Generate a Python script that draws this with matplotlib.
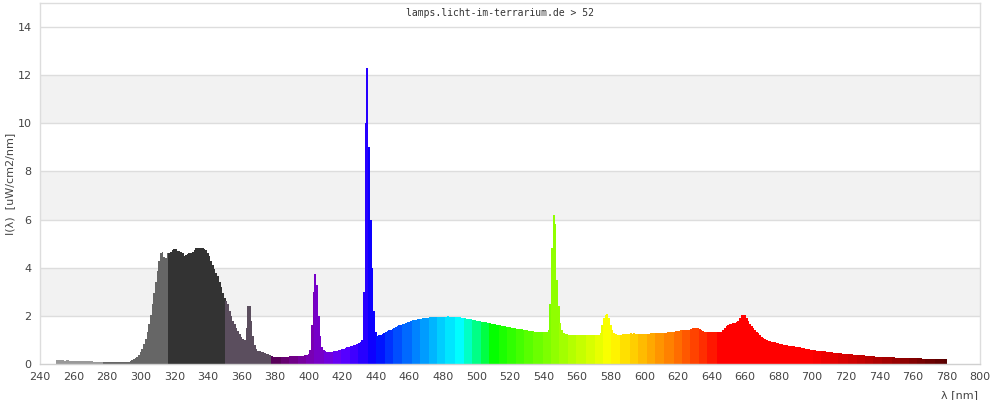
import numpy as np
import matplotlib
matplotlib.use("Agg")
import matplotlib.pyplot as plt

# ---- data (1 nm steps from 250 nm to 780 nm) ----
wl_start = 250
intensity = [
    0.17, 0.17, 0.17, 0.17, 0.17, 0.14, 0.17, 0.17, 0.13, 0.13,   # 250
    0.13, 0.13, 0.13, 0.13, 0.13, 0.13, 0.13, 0.13, 0.13, 0.13,   # 260
    0.13, 0.13, 0.08, 0.08, 0.08, 0.08, 0.08, 0.08, 0.08, 0.08,   # 270
    0.08, 0.08, 0.08, 0.08, 0.08, 0.08, 0.08, 0.08, 0.08, 0.08,   # 280
    0.08, 0.08, 0.08, 0.10, 0.12, 0.16, 0.20, 0.25, 0.30, 0.38,   # 290
    0.48, 0.62, 0.82, 1.05, 1.35, 1.68, 2.05, 2.50, 2.95, 3.40,   # 300
    3.85, 4.30, 4.60, 4.65, 4.45, 4.42, 4.60, 4.60, 4.65, 4.72,   # 310
    4.76, 4.78, 4.70, 4.70, 4.65, 4.62, 4.50, 4.52, 4.57, 4.60,   # 320
    4.62, 4.66, 4.74, 4.82, 4.83, 4.80, 4.82, 4.80, 4.77, 4.72,   # 330
    4.62, 4.48, 4.30, 4.12, 3.93, 3.78, 3.65, 3.42, 3.20, 2.97,   # 340
    2.75, 2.60, 2.48, 2.22, 2.00, 1.80, 1.65, 1.50, 1.37, 1.25,   # 350
    1.14, 1.05, 1.00, 1.50, 2.40, 2.40, 1.80, 1.15, 0.80, 0.62,   # 360
    0.56, 0.53, 0.50, 0.48, 0.45, 0.43, 0.41, 0.38, 0.34, 0.30,   # 370
    0.29, 0.29, 0.28, 0.28, 0.28, 0.29, 0.29, 0.30, 0.30, 0.32,   # 380
    0.33, 0.33, 0.33, 0.34, 0.34, 0.34, 0.35, 0.35, 0.36, 0.37,   # 390
    0.40, 0.60, 1.60, 3.00, 3.75, 3.30, 2.00, 1.15, 0.70, 0.57,   # 400
    0.52, 0.50, 0.50, 0.50, 0.50, 0.52, 0.54, 0.56, 0.58, 0.60,   # 410
    0.62, 0.64, 0.67, 0.69, 0.71, 0.73, 0.76, 0.79, 0.81, 0.84,   # 420
    0.88, 0.92, 1.00, 3.00, 10.0, 12.3, 9.00, 6.00, 4.00, 2.20,   # 430
    1.35, 1.18, 1.19, 1.21, 1.25, 1.29, 1.32, 1.36, 1.40, 1.43,   # 440
    1.46, 1.50, 1.53, 1.57, 1.60, 1.63, 1.65, 1.67, 1.70, 1.73,   # 450
    1.76, 1.79, 1.81, 1.83, 1.84, 1.86, 1.87, 1.89, 1.90, 1.91,   # 460
    1.92, 1.93, 1.94, 1.94, 1.95, 1.95, 1.96, 1.96, 1.96, 1.96,   # 470
    1.96, 1.96, 1.97, 1.99, 1.96, 1.96, 1.96, 1.95, 1.95, 1.94,   # 480
    1.94, 1.93, 1.91, 1.90, 1.89, 1.87, 1.86, 1.85, 1.83, 1.81,   # 490
    1.80, 1.79, 1.78, 1.76, 1.75, 1.74, 1.73, 1.70, 1.69, 1.68,   # 500
    1.66, 1.65, 1.63, 1.62, 1.60, 1.59, 1.57, 1.56, 1.55, 1.53,   # 510
    1.52, 1.51, 1.50, 1.48, 1.47, 1.46, 1.45, 1.44, 1.42, 1.41,   # 520
    1.40, 1.39, 1.38, 1.37, 1.36, 1.35, 1.34, 1.34, 1.33, 1.33,   # 530
    1.33, 1.33, 1.33, 1.40, 2.50, 4.80, 6.20, 5.80, 3.50, 2.40,   # 540
    1.70, 1.40, 1.28, 1.25, 1.23, 1.22, 1.21, 1.21, 1.21, 1.21,   # 550
    1.21, 1.21, 1.21, 1.21, 1.21, 1.21, 1.21, 1.21, 1.21, 1.21,   # 560
    1.21, 1.21, 1.21, 1.21, 1.30, 1.60, 1.90, 2.05, 2.08, 1.90,   # 570
    1.60, 1.40, 1.30, 1.24, 1.21, 1.21, 1.22, 1.23, 1.23, 1.24,   # 580
    1.24, 1.25, 1.28, 1.24, 1.28, 1.25, 1.26, 1.26, 1.26, 1.26,   # 590
    1.26, 1.26, 1.26, 1.26, 1.27, 1.27, 1.28, 1.29, 1.29, 1.30,   # 600
    1.30, 1.30, 1.30, 1.30, 1.31, 1.32, 1.33, 1.34, 1.35, 1.36,   # 610
    1.37, 1.38, 1.40, 1.42, 1.42, 1.42, 1.42, 1.43, 1.46, 1.49,   # 620
    1.50, 1.50, 1.49, 1.46, 1.42, 1.38, 1.35, 1.33, 1.33, 1.33,   # 630
    1.33, 1.33, 1.33, 1.33, 1.33, 1.33, 1.34, 1.40, 1.48, 1.56,   # 640
    1.62, 1.65, 1.67, 1.69, 1.71, 1.73, 1.80, 1.93, 2.02, 2.04,   # 650
    2.03, 1.93, 1.80, 1.68, 1.58, 1.50, 1.43, 1.35, 1.27, 1.19,   # 660
    1.11, 1.06, 1.03, 1.00, 0.97, 0.95, 0.93, 0.91, 0.90, 0.89,   # 670
    0.88, 0.84, 0.82, 0.80, 0.79, 0.78, 0.76, 0.75, 0.74, 0.73,   # 680
    0.72, 0.72, 0.71, 0.69, 0.67, 0.65, 0.64, 0.62, 0.61, 0.60,   # 690
    0.59, 0.58, 0.57, 0.56, 0.55, 0.54, 0.53, 0.52, 0.52, 0.51,   # 700
    0.50, 0.49, 0.48, 0.47, 0.46, 0.46, 0.45, 0.44, 0.43, 0.43,   # 710
    0.42, 0.41, 0.41, 0.40, 0.40, 0.39, 0.38, 0.38, 0.37, 0.37,   # 720
    0.36, 0.36, 0.35, 0.34, 0.33, 0.33, 0.32, 0.32, 0.31, 0.30,   # 730
    0.30, 0.29, 0.29, 0.29, 0.29, 0.29, 0.29, 0.29, 0.28, 0.28,   # 740
    0.27, 0.27, 0.26, 0.26, 0.25, 0.25, 0.25, 0.25, 0.25, 0.25,   # 750
    0.25, 0.25, 0.26, 0.27, 0.25, 0.23, 0.22, 0.22, 0.22, 0.22,   # 760
    0.21, 0.21, 0.21, 0.21, 0.22, 0.21, 0.21, 0.22, 0.21, 0.21,   # 770
    0.20,                                                          # 780
]
wavelengths = np.arange(wl_start, wl_start + len(intensity))

x_ticks = list(range(240, 801, 20))
y_ticks = list(range(0, 15, 2))
title_text = "lamps.licht-im-terrarium.de > 52"
y_label = "I(\u03bb)  [uW/cm2/nm]"
x_label = "\u03bb [nm]"

# UV band colours (upper bound nm, colour)
uv_bands = [(278, "#999999"), (317, "#666666"), (351, "#333333"), (378, "#5b4e5e")]


def spectral_rgb(w, gamma=0.9):
    if w < 440:
        r, g, b = -(w - 440) / 60.0, 0.0, 1.0
    elif w < 490:
        r, g, b = 0.0, (w - 440) / 50.0, 1.0
    elif w < 510:
        r, g, b = 0.0, 1.0, -(w - 510) / 20.0
    elif w < 580:
        r, g, b = (w - 510) / 70.0, 1.0, 0.0
    elif w < 645:
        r, g, b = 1.0, -(w - 645) / 65.0, 0.0
    else:
        r, g, b = 1.0, 0.0, 0.0
    if w < 420:
        f = 0.3 + 0.7 * (w - 380) / 40.0
    elif w <= 700:
        f = 1.0
    else:
        f = 0.3 + 0.7 * (780 - w) / 80.0
    f = max(f, 0.3)
    return tuple((max(c, 0.0) * f) ** gamma for c in (r, g, b))


def bar_color(w):
    for upper, col in uv_bands:
        if w < upper:
            return col
    block = 5.2
    start = 378.0
    centre = start + (np.floor((w - start) / block) + 0.5) * block
    return spectral_rgb(min(max(centre, 380), 780))


colors = [bar_color(w) for w in wavelengths]

fig = plt.figure(figsize=(10, 4), dpi=100)
ax = fig.add_axes([0.04, 0.09, 0.94, 0.9025])

ax.set_xlim(240, 800)
ax.set_ylim(0, 15)

for lo in (2, 6, 10):
    ax.axhspan(lo, lo + 2, color="#f2f2f2", zorder=0, lw=0)
for y in y_ticks[1:]:
    ax.axhline(y, color="#dddddd", lw=1.0, zorder=0.5)

ax.bar(wavelengths, intensity, width=1.08, color=colors, linewidth=0,
       antialiased=True, zorder=2)

ax.set_xticks(x_ticks)
ax.set_yticks(y_ticks)
ax.tick_params(length=0, labelsize=8, colors="#444444", pad=6)
for s in ax.spines.values():
    s.set_color("#dddddd")
    s.set_linewidth(1.0)
ax.spines["bottom"].set_color("#d0d0d0")

fig.text(0.5, 1 - 13 / 400, title_text, ha="center", va="center",
         family="DejaVu Sans Mono", fontsize=7, color="#333333")
fig.text(0.010, 0.09 + 0.9025 / 2, y_label, rotation=90, ha="center",
         va="center", fontsize=8, color="#444444")
fig.text(0.978, 1 - 395 / 400, x_label, ha="right", va="center",
         fontsize=8, color="#444444")

fig.savefig("out.png", dpi=100, facecolor="white")
